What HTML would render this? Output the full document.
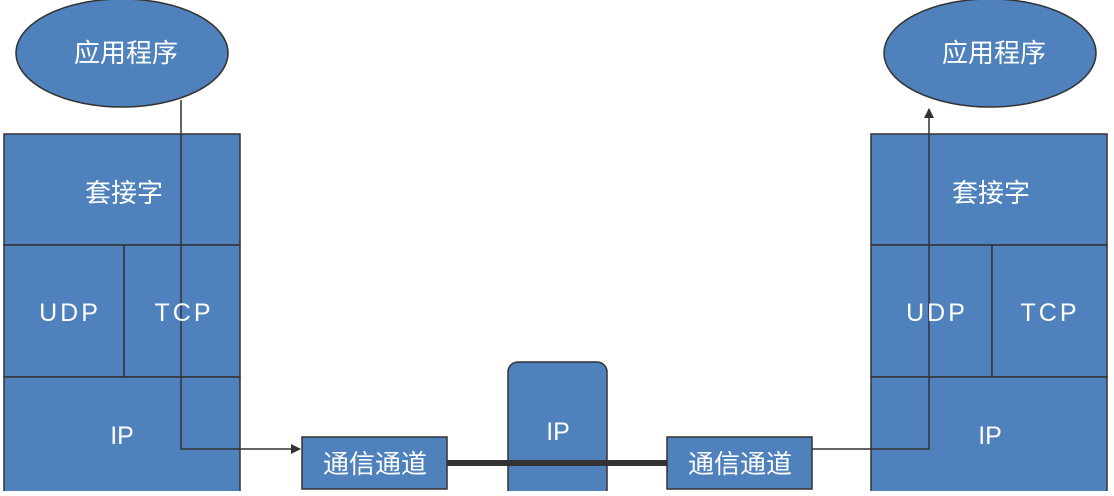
<!DOCTYPE html>
<html><head><meta charset="utf-8"><style>
body{margin:0;background:#fff;}
svg text{font-family:"Liberation Sans","Noto Sans CJK SC",sans-serif;fill:#fff;text-anchor:middle;dominant-baseline:central;font-size:25px;}
</style></head><body>
<svg width="1114" height="491" viewBox="0 0 1114 491">
<defs><marker id="a" markerWidth="10" markerHeight="10" refX="9" refY="5" orient="auto" markerUnits="userSpaceOnUse"><path d="M0,0 L10,5 L0,10z" fill="#333"/></marker></defs>
<g fill="#4f81bd" stroke="#333" stroke-width="1.5">
<ellipse cx="122" cy="53" rx="106" ry="54"/>
<ellipse cx="990" cy="53" rx="106" ry="54"/>
<rect x="4" y="134" width="236" height="111"/>
<rect x="4" y="245" width="120" height="132"/>
<rect x="124" y="245" width="116" height="132"/>
<rect x="4" y="377" width="236" height="120"/>
<rect x="871" y="134" width="236" height="111"/>
<rect x="871" y="245" width="121" height="132"/>
<rect x="992" y="245" width="115" height="132"/>
<rect x="871" y="377" width="236" height="120"/>
<rect x="508" y="362" width="99" height="140" rx="10"/>
</g>
<line x1="447" y1="463" x2="667" y2="463" stroke="#333" stroke-width="6"/>
<g fill="#4f81bd" stroke="#333" stroke-width="1.5">
<rect x="302" y="437" width="145" height="52"/>
<rect x="667" y="437" width="145" height="52"/>
</g>
<g fill="none" stroke="#333" stroke-width="1.5">
<polyline points="181,100 181,449 300,449" marker-end="url(#a)"/>
<polyline points="812,449 929,449 929,109" marker-end="url(#a)"/>
</g>
<text x="126" y="53" style="font-size:26px">应用程序</text>
<text x="994" y="53" style="font-size:26px">应用程序</text>
<text x="124" y="193" style="font-size:26px">套接字</text>
<text x="991" y="193" style="font-size:26px">套接字</text>
<text x="70" y="313" style="letter-spacing:3px">UDP</text>
<text x="184" y="313" style="letter-spacing:3px">TCP</text>
<text x="937" y="313" style="letter-spacing:3px">UDP</text>
<text x="1050" y="313" style="letter-spacing:3px">TCP</text>
<text x="122" y="436">IP</text>
<text x="990" y="436">IP</text>
<text x="558" y="432">IP</text>
<text x="375" y="464" style="font-size:26px">通信通道</text>
<text x="740" y="464" style="font-size:26px">通信通道</text>
</svg>
</body></html>
